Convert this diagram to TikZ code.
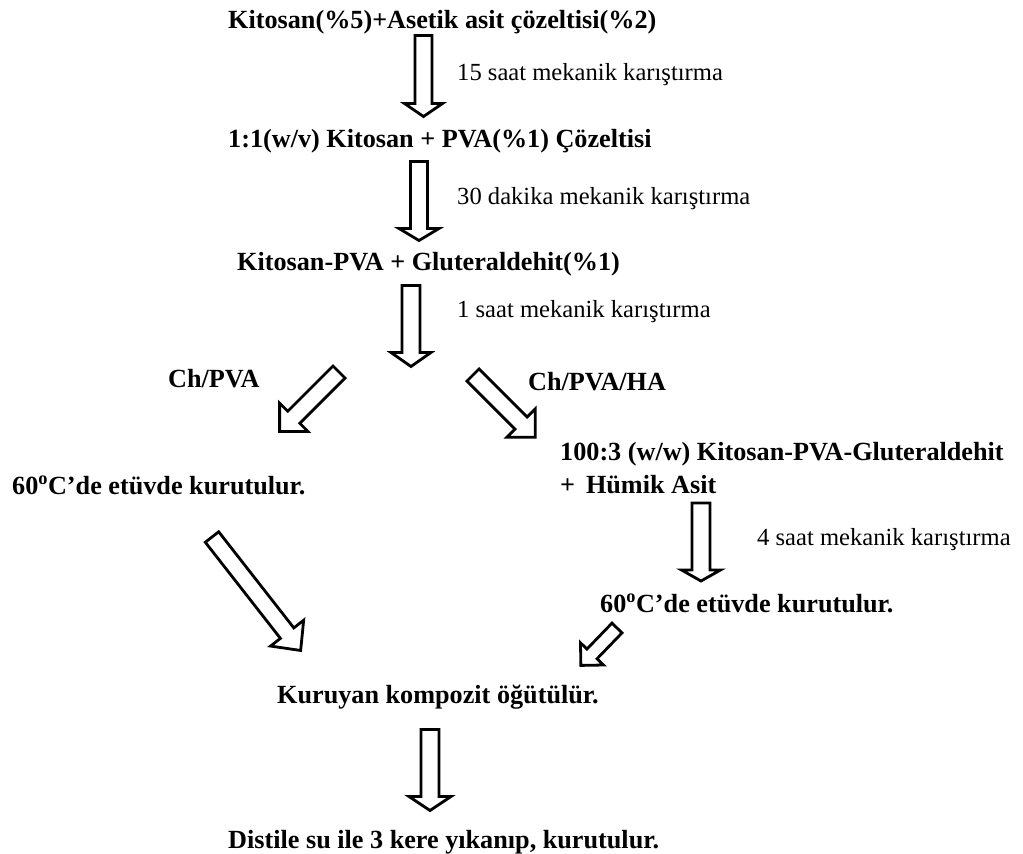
\documentclass[tikz,border=0pt]{standalone}
\usepackage{fontspec}
\setmainfont{Liberation Serif}
\begin{document}
\begin{tikzpicture}[x=1pt,y=1pt,
  lbl/.style={anchor=base west,inner sep=0pt,font=\fontsize{26.2}{30}\selectfont\bfseries},
  note/.style={anchor=base west,inner sep=0pt,font=\fontsize{24.6}{28}\selectfont},
  arrowline/.style={draw=black,line width=2.8pt,fill=white,line join=miter},
  pics/barrow/.style n args={4}{code={
    \path[arrowline] (0,-#3) -- ({#1-#2},-#3) -- ({#1-#2},-#4) -- (#1,0)
      -- ({#1-#2},#4) -- ({#1-#2},#3) -- (0,#3) -- cycle;
  }}]
\useasboundingbox (0,0) rectangle (1023,-854);

% texts
\node[lbl] (t1) at (228,-28) {Kitosan(\%5)+Asetik asit çözeltisi(\%2)};
\node[note] (n1) at (457,-80) {15 saat mekanik karıştırma};
\node[lbl] (t2) at (228,-147) {1:1(w/v) Kitosan + PVA(\%1) Çözeltisi};
\node[note] (n2) at (457,-204) {30 dakika mekanik karıştırma};
\node[lbl] (t3) at (237,-270) {Kitosan-PVA + Gluteraldehit(\%1)};
\node[note] (n3) at (457,-317) {1 saat mekanik karıştırma};
\node[lbl] (b1) at (168,-387) {Ch/PVA};
\node[lbl] (b2) at (528,-390) {Ch/PVA/HA};
\node[lbl] (l1) at (12,-494) {60\textsuperscript{o}C’de etüvde kurutulur.};
\node[lbl] (r1) at (560,-460) {100:3 (w/w) Kitosan-PVA-Gluteraldehit};
\node[lbl] (r2) at (560,-493) {+ \,Hümik Asit};
\node[note] (n4) at (757,-545) {4 saat mekanik karıştırma};
\node[lbl] (r3) at (600,-612) {60\textsuperscript{o}C’de etüvde kurutulur.};
\node[lbl] (k1) at (277,-703) {Kuruyan kompozit öğütülür.};
\node[lbl] (d1) at (228,-848) {Distile su ile 3 kere yıkanıp, kurutulur.};

% block arrows
\pic[rotate=-90] at (423.5,-35.5) {barrow={81}{13}{8.5}{19}};
\pic[rotate=-90] at (419,-161.5) {barrow={79}{12}{8.5}{20}};
\pic[rotate=-90] at (411,-285.5) {barrow={81}{14}{9}{20}};
\pic[rotate=225] at (339,-372) {barrow={84}{20}{8.5}{20}};
\pic[rotate=-45] at (473,-375) {barrow={88}{20}{8.5}{20}};
\pic[rotate=-52] at (212,-537) {barrow={144}{22}{8.5}{21}};
\pic[rotate=-90] at (701,-503) {barrow={78}{11}{9}{19.5}};
\pic[rotate=226] at (617,-628) {barrow={52}{16}{7}{16}};
\pic[rotate=-90] at (430,-729.5) {barrow={81}{14}{9}{21}};
\end{tikzpicture}
\end{document}
